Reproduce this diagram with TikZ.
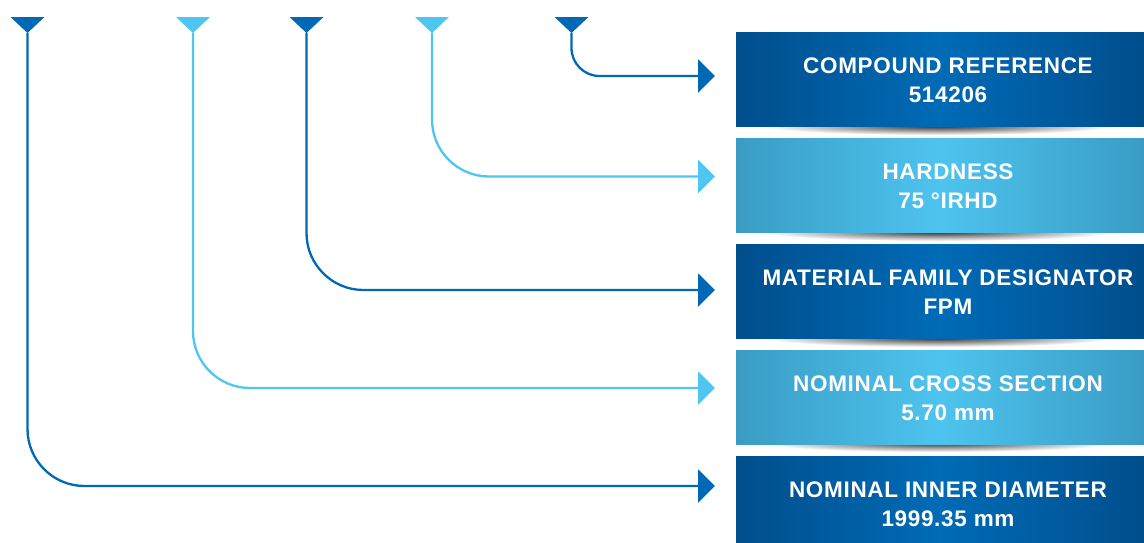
\documentclass[tikz,border=0pt]{standalone}
\usepackage{fontspec}
\setmainfont{Liberation Sans}
\usetikzlibrary{arrows.meta}
\definecolor{dkline}{HTML}{0068B4}
\definecolor{ltline}{HTML}{4FC5F2}
\definecolor{dkedge}{HTML}{004E8C}
\definecolor{dkmid}{HTML}{006BB6}
\definecolor{ltedge}{HTML}{3A9CC4}
\definecolor{ltmid}{HTML}{4DC4EF}
\begin{document}
\begin{tikzpicture}[x=1pt,y=-1pt,
  conn/.style={line width=2.3pt,-{Triangle[length=17pt,width=33pt]}},
  dkc/.style={conn,draw=dkline},
  ltc/.style={conn,draw=ltline},
  box/.style={minimum width=408pt,minimum height=94pt,anchor=north west,inner sep=0pt,draw=none},
  dkbox/.style={box,left color=dkedge,right color=dkedge,middle color=dkmid},
  ltbox/.style={box,left color=ltedge,right color=ltedge,middle color=ltmid},
  lbl/.style={text=white,align=center,inner sep=0pt,
    font=\fontsize{22.5}{29}\selectfont\bfseries\addfontfeatures{LetterSpace=3}},
  shad/.style={inner color=black!80,outer color=white}
]
\useasboundingbox (0,0) rectangle (1144,542);
\clip (0,0) rectangle (1144,542);
% shadows under boxes
\foreach \y in {126,232,338,443}{
  \shade[shad] (938,\y) ellipse [x radius=175,y radius=9];
}
% boxes
\node[dkbox] (b1) at (736,32) {};
\node[ltbox] (b2) at (736,138) {};
\node[dkbox] (b3) at (736,244) {};
\node[ltbox] (b4) at (736,350) {};
\node[dkbox] (b5) at (736,456) {};
% labels
\node[lbl] (l1) at (948,80) {COMPOUND REFERENCE\\514206};
\node[lbl] (l2) at (948,186) {HARDNESS\\75 °IRHD};
\node[lbl] (l3) at (948,292) {MATERIAL FAMILY DESIGNATOR\\FPM};
\node[lbl] (l4) at (948,398) {NOMINAL CROSS SECTION\\5.70 mm};
\node[lbl] (l5) at (948,504) {NOMINAL INNER DIAMETER\\1999.35 mm};
% top markers
\coordinate (t1) at (27.5,33);
\coordinate (t2) at (193,33);
\coordinate (t3) at (306.5,33);
\coordinate (t4) at (432,33);
\coordinate (t5) at (571.5,33);
\foreach \t/\c in {t1/dkline,t2/ltline,t3/dkline,t4/ltline,t5/dkline}{
  \fill[\c] (\t) -- ++(-17,-16) -- ++(34,0) -- cycle;
}
% arrow ends
\coordinate (a1) at (715,76);
\coordinate (a2) at (715,176.5);
\coordinate (a3) at (715,290);
\coordinate (a4) at (715,388);
\coordinate (a5) at (715,486);
% connectors
\draw[dkc,rounded corners=28pt] (t5) |- (a1);
\draw[ltc,rounded corners=57pt] (t4) |- (a2);
\draw[dkc,rounded corners=57pt] (t3) |- (a3);
\draw[ltc,rounded corners=57pt] (t2) |- (a4);
\draw[dkc,rounded corners=57pt] (t1) |- (a5);
\end{tikzpicture}
\end{document}
